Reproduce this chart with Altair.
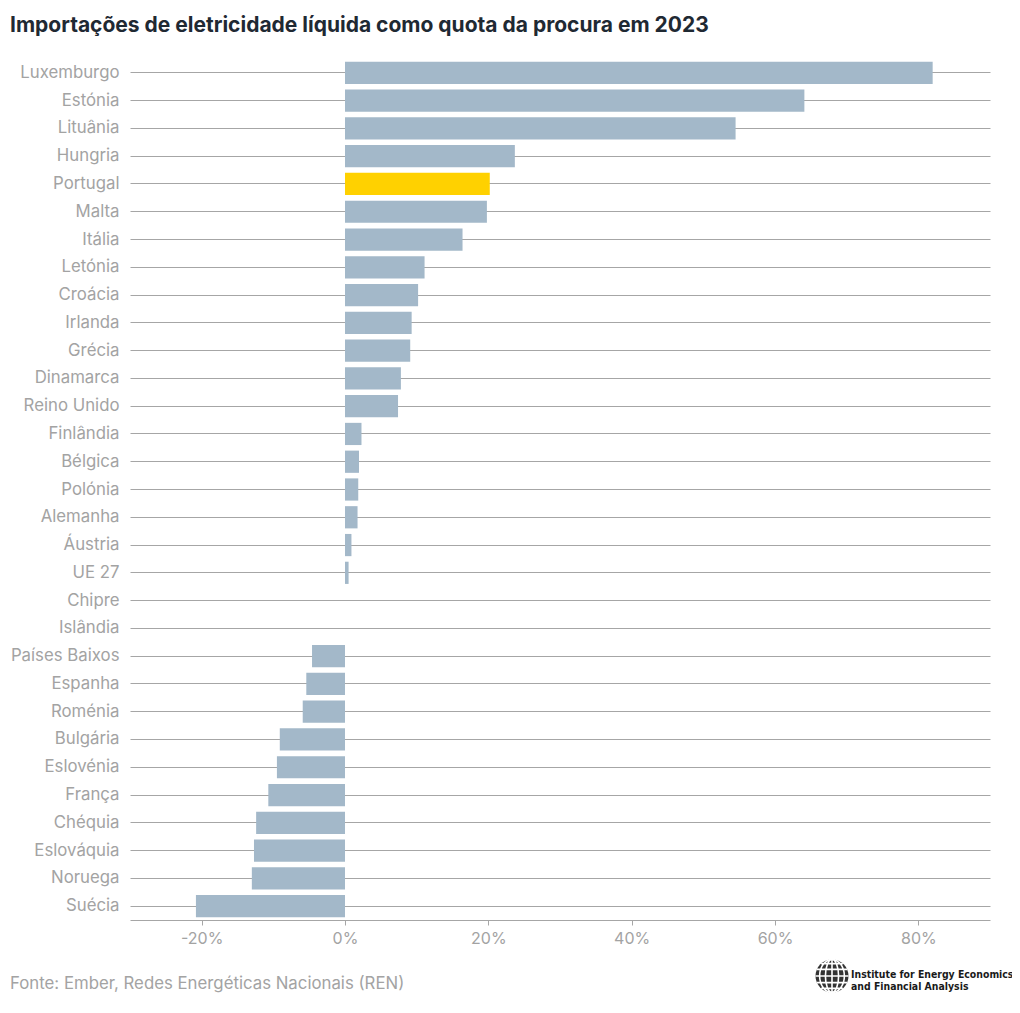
import altair as alt
import pandas as pd

countries = ["Luxemburgo", "Estónia", "Lituânia", "Hungria", "Portugal", "Malta", "Itália",
             "Letónia", "Croácia", "Irlanda", "Grécia", "Dinamarca", "Reino Unido", "Finlândia",
             "Bélgica", "Polónia", "Alemanha", "Áustria", "UE 27", "Chipre", "Islândia",
             "Países Baixos", "Espanha", "Roménia", "Bulgária", "Eslovénia", "França", "Chéquia",
             "Eslováquia", "Noruega", "Suécia"]
values = [82.0, 64.1, 54.5, 23.7, 20.2, 19.8, 16.4,
          11.1, 10.2, 9.3, 9.1, 7.8, 7.4, 2.3,
          1.95, 1.85, 1.75, 0.9, 0.5, 0.0, 0.0,
          -4.6, -5.4, -5.9, -9.1, -9.5, -10.7, -12.4,
          -12.7, -13.0, -20.8]
highlight = ["Portugal"]
tick_values = [-20, 0, 20, 40, 60, 80]

TITLE = "Importações de eletricidade líquida como quota da procura em 2023"
SOURCE = "Fonte: Ember, Redes Energéticas Nacionais (REN)"
LOGO1 = "Institute for Energy Economics"
LOGO2 = "and Financial Analysis"

df = pd.DataFrame({
    "pais": countries,
    "valor": values,
    "grupo": ["destaque" if c in highlight else "outro" for c in countries],
})

FONT = "Inter"
GRAY = "#a3a3a3"
W, H = 860, 861

bars = alt.Chart(df).mark_bar(cornerRadius=0).encode(
    y=alt.Y("pais:N", sort=countries, title=None,
            scale=alt.Scale(paddingInner=0.2, paddingOuter=0.1),
            axis=alt.Axis(ticks=False, domain=False, grid=True, bandPosition=0.5,
                          gridColor="#a6a6a6", gridWidth=1, labelPadding=11,
                          labelFontSize=16.8, labelColor=GRAY, labelFont=FONT)),
    x=alt.X("valor:Q", title=None,
            scale=alt.Scale(domain=[-30, 90], nice=False, zero=True),
            axis=alt.Axis(values=tick_values, labelExpr="datum.value + '%'", grid=False,
                          domainColor="#a6a6a6", tickColor="#a6a6a6", tickSize=5,
                          labelFontSize=16, labelColor=GRAY, labelFont=FONT, labelPadding=5)),
    color=alt.Color("grupo:N", scale=alt.Scale(domain=["destaque", "outro"],
                                                 range=["#ffd100", "#a3b8c9"]), legend=None),
)

src = pd.DataFrame({"t": [SOURCE]})
source = alt.Chart(src).mark_text(align="left", baseline="middle", font=FONT, fontSize=16.8,
                                  color=GRAY).encode(
    text="t:N", x=alt.value(-120), y=alt.value(925))

LOGO_FONT = "DejaVu Sans Condensed"
logo1 = alt.Chart(pd.DataFrame({"t": [LOGO1]})).mark_text(
    align="left", baseline="middle", font=LOGO_FONT, fontSize=10.4, fontWeight="bold",
    color="#1a1a1a").encode(text="t:N", x=alt.value(721), y=alt.value(915.5))
logo2 = alt.Chart(pd.DataFrame({"t": [LOGO2]})).mark_text(
    align="left", baseline="middle", font=LOGO_FONT, fontSize=10.4, fontWeight="bold",
    color="#1a1a1a").encode(text="t:N", x=alt.value(721), y=alt.value(928))

GLOBE_PATH = ("M0,-1 L0,1 "
              "M0,-1 A0.4,1 0 0,1 0,1 A0.4,1 0 0,1 0,-1 "
              "M0,-1 A0.75,1 0 0,1 0,1 A0.75,1 0 0,1 0,-1 "
              "M-1,0 L1,0 "
              "M-0.92,-0.4 L0.92,-0.4 M-0.92,0.4 L0.92,0.4 "
              "M-0.66,-0.75 L0.66,-0.75 M-0.66,0.75 L0.66,0.75")
globe_bg = alt.Chart(pd.DataFrame({"a": [1]})).mark_point(
    shape="circle", filled=True, size=1089, color="#333333", opacity=1).encode(
    x=alt.value(702), y=alt.value(917))
globe_grid = alt.Chart(pd.DataFrame({"a": [1]})).mark_point(
    shape=GLOBE_PATH, filled=False, size=1089, stroke="white", strokeWidth=1.6, opacity=1).encode(
    x=alt.value(702), y=alt.value(917))

chart = alt.layer(bars, source, logo1, logo2, globe_bg, globe_grid).properties(
    width=W, height=H,
    autosize=alt.AutoSizeParams(type="none"),
    padding={"left": 122, "top": 51, "right": 22, "bottom": 85},
    title=alt.TitleParams(TITLE, anchor="start", frame="group", dx=-120, offset=23,
                          font=FONT, fontSize=21, fontWeight="bold", color="#1f2933"),
).configure_view(stroke=None)

chart.save("out.html", embed_options={"renderer": "svg", "actions": False})
